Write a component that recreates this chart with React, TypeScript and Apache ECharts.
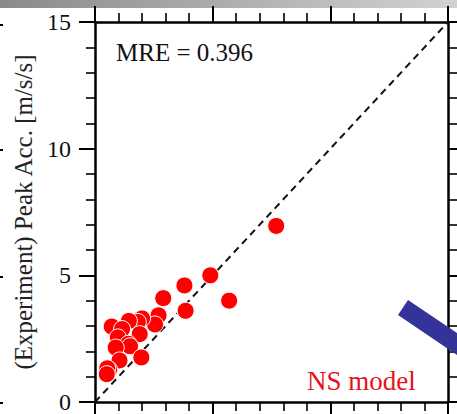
import React, { useEffect, useRef } from "react";
import * as echarts from "echarts";

const xValues = [4.9, 5.7, 3.8, 3.85, 2.9, 2.7, 2.55, 2.0, 1.82, 1.44, 0.71, 1.15, 1.9, 0.97, 1.42, 1.49, 0.88, 1.97, 1.04, 0.6, 0.52, 0.5, 7.7];
const yValues = [5.0, 4.0, 4.6, 3.6, 4.1, 3.42, 3.06, 3.3, 3.16, 3.2, 2.98, 2.88, 2.68, 2.55, 2.3, 2.2, 2.15, 1.76, 1.64, 1.28, 1.33, 1.1, 6.95];
const yTickLabels = ["0", "5", "10", "15"];
const refLine = [[0, 0], [15, 15]];
const mreText = "MRE = 0.396";
const modelText = "NS model";
const yName = "(Experiment) Peak Acc. [m/s/s]";

const FONT = "'Liberation Serif', 'Times New Roman', serif";

function axisBase(position: string, showLabels: boolean) {
  return {
    type: "value",
    position,
    min: 0,
    max: 15,
    interval: 5,
    axisLine: { show: true, onZero: false, lineStyle: { color: "#000", width: 2.5 } },
    axisTick: { show: true, inside: false, length: 16, lineStyle: { color: "#000", width: 2 } },
    minorTick: { show: true, splitNumber: 5, length: 9, lineStyle: { color: "#000", width: 1.6 } },
    splitLine: { show: false },
    minorSplitLine: { show: false },
    axisLabel: showLabels
      ? {
          show: true,
          margin: 24,
          color: "#111",
          fontFamily: FONT,
          fontSize: 24,
          formatter: (v: number) => (yTickLabels.includes(String(v)) ? String(v) : ""),
        }
      : { show: false },
  };
}

export default function App() {
  const ref = useRef<HTMLDivElement>(null);
  useEffect(() => {
    if (!ref.current) return;
    const chart = echarts.init(ref.current, undefined, { renderer: "svg" });
    const points = xValues.map((x, i) => [x, yValues[i]]);
    chart.setOption({
      animation: false,
      backgroundColor: "#fff",
      grid: { left: 95, right: 9, top: 22, bottom: 11, containLabel: false },
      xAxis: [axisBase("bottom", false), axisBase("top", false)],
      yAxis: [
        {
          ...axisBase("left", true),
          name: yName,
          nameLocation: "middle",
          nameRotate: 90,
          nameGap: 58,
          nameTextStyle: { fontFamily: FONT, fontSize: 25, color: "#222" },
        },
        axisBase("right", false),
      ],
      series: [
        {
          type: "line",
          xAxisIndex: 0,
          yAxisIndex: 0,
          data: refLine,
          symbol: "none",
          lineStyle: { color: "#111", width: 2, type: [7, 5] },
          z: 1,
        },
        {
          type: "scatter",
          xAxisIndex: 0,
          yAxisIndex: 0,
          data: points,
          symbol: "circle",
          symbolSize: 17,
          itemStyle: { color: "#ff0000", borderColor: "#fff", borderWidth: 1, opacity: 1 },
          z: 3,
        },
      ],
      graphic: [
        {
          type: "rect",
          z: -1,
          shape: { x: 0, y: 0, width: 457, height: 8 },
          style: {
            fill: new echarts.graphic.LinearGradient(0, 0, 1, 0, [
              { offset: 0, color: "#8a8a8a" },
              { offset: 1, color: "#d2d2d2" },
            ]),
          },
        },
        ...[25, 150, 277, 403].map((y) => ({
          type: "line",
          z: 5,
          shape: { x1: 0, y1: y, x2: 3, y2: y },
          style: { stroke: "#000", lineWidth: 2 },
        })),
        {
          type: "text",
          left: 116,
          top: 40,
          z: 10,
          style: { text: mreText, fontFamily: FONT, fontSize: 25, fill: "#111" },
        },
        {
          type: "text",
          left: 307,
          top: 367,
          z: 10,
          style: { text: modelText, fontFamily: FONT, fontSize: 27, fill: "#e8101a" },
        },
        {
          type: "polygon",
          z: 100,
          shape: { points: [[408, 300], [457, 333], [457, 355], [398, 315]] },
          style: { fill: "#333399" },
        },
      ],
    });
    return () => chart.dispose();
  }, []);
  return (
    <div
      ref={ref}
      style={{ position: "fixed", left: 0, top: 0, width: 457, height: 414 }}
    />
  );
}
